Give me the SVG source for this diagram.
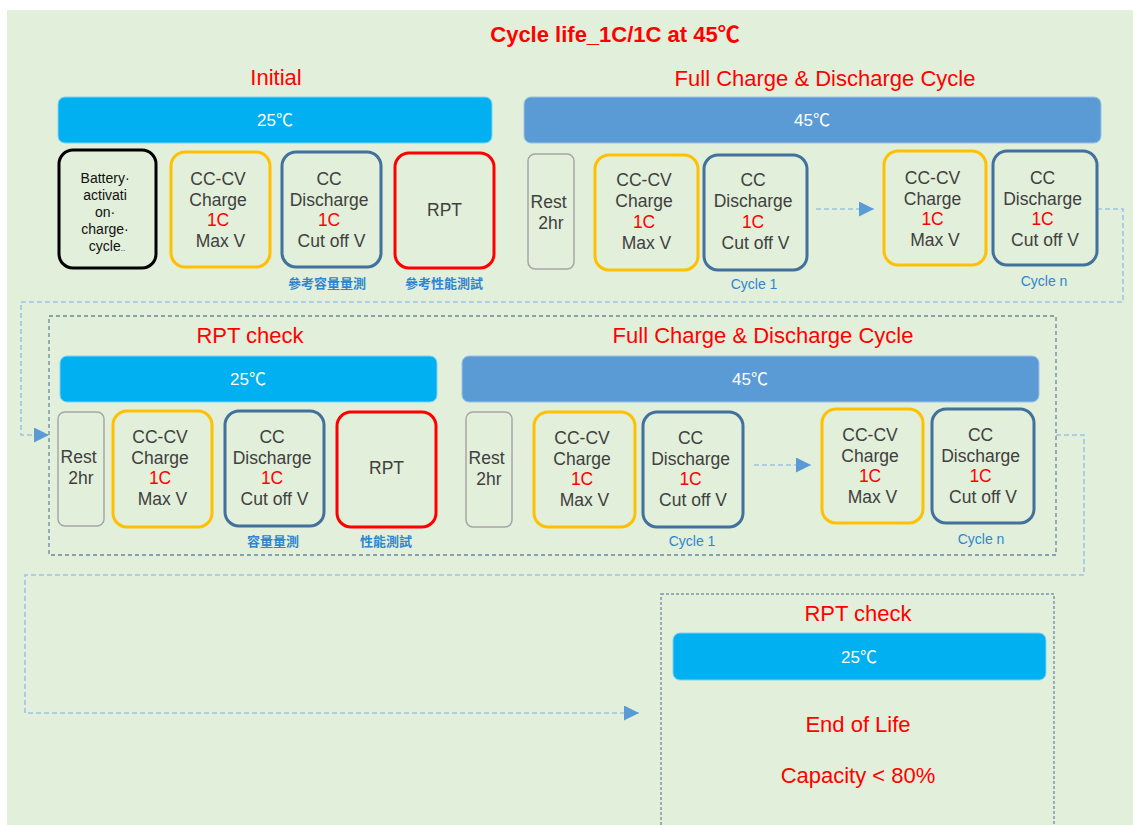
<svg xmlns="http://www.w3.org/2000/svg" width="1133" height="825" viewBox="0 0 1133 825">
  <style>
    text { font-family: "Liberation Sans", "Noto Sans CJK TC", sans-serif; text-anchor: middle; }
    .ttl { fill: #FF0000; font-size: 22px; }
    .bar25 { fill: #00B0F0; stroke: #7FD3F2; stroke-width: 1; }
    .bar45 { fill: #5B9BD5; stroke: #9CC2E6; stroke-width: 1; }
    .bartxt { fill: #FFFFFF; font-size: 17px; }
    .n { fill: none; stroke-width: 3; }
    .chg { stroke: #FFC000; }
    .dis { stroke: #41719C; }
    .rpt { stroke: #FF0000; }
    .act { stroke: #000000; }
    .rest { fill: none; stroke: #A6A6A6; stroke-width: 1.5; }
    .nt { fill: #404040; font-size: 17.5px; }
    .at { fill: #111111; font-size: 14px; }
    .red { fill: #FF0000; }
    .note { fill: #2E86CF; font-size: 14px; }
    .cjk { font-family: "Noto Sans CJK TC", sans-serif; font-weight: bold; font-size: 13px; }
    .flow { fill: none; stroke: #9DC3E6; stroke-width: 1.6; stroke-dasharray: 5 3; }
    .grp { fill: none; stroke: #6A88A4; stroke-width: 1.3; stroke-dasharray: 4 3; }
    .grp2 { fill: none; stroke: #7F97AA; stroke-width: 1.5; stroke-dasharray: 3 2; }
  </style>
  <defs>
    <marker id="tri" viewBox="0 0 10 10" refX="10" refY="5" markerWidth="15" markerHeight="15" markerUnits="userSpaceOnUse" orient="auto">
      <path d="M0,0 L10,5 L0,10 z" fill="#5B9BD5"/>
    </marker>
  </defs>

  <!-- backdrop -->
  <rect x="7" y="10" width="1130" height="820" fill="#E2EFDA"/>

  <!-- headings -->
  <text class="ttl" x="615" y="42" font-weight="bold">Cycle life_1C/1C at 45℃</text>
  <text class="ttl" x="276" y="85">Initial</text>
  <text class="ttl" x="825" y="86">Full Charge &amp; Discharge Cycle</text>

  <!-- group frames -->
  <rect class="grp" x="49" y="316" width="1007" height="239"/>
  <rect class="grp2" x="661" y="594" width="393" height="260"/>

  <!-- connectors -->
  <g id="connectors">
    <path class="flow" d="M1097,209 H1123 V302 H21 V435 H49" marker-end="url(#tri)"/>
    <path class="flow" d="M1056,435 H1084 V575 H25 V713 H639" marker-end="url(#tri)"/>
    <path class="flow" d="M816,209 H874" marker-end="url(#tri)"/>
    <path class="flow" d="M754,465 H811" marker-end="url(#tri)"/>
  </g>

  <!-- row 1: initial stage -->
  <g id="bar-initial">
    <rect class="bar25" x="58" y="97" width="434" height="46" rx="7"/>
    <text class="bartxt" x="275" y="126">25℃</text>
  </g>
  <g id="activation">
    <rect class="n act" x="59" y="150" width="97" height="118" rx="14"/>
    <text class="at">
      <tspan x="107" y="183">Battery·</tspan>
      <tspan x="107" y="200">activati</tspan>
      <tspan x="107" y="217">on·</tspan>
      <tspan x="107" y="234">charge·</tspan>
      <tspan x="107" y="251">cycle<tspan font-size="8">..</tspan></tspan>
    </text>
  </g>
  <g id="init-charge">
    <rect class="n chg" x="171" y="152" width="99" height="115" rx="14"/>
    <text class="nt">
      <tspan x="220.5" y="185">CC-CV</tspan>
      <tspan x="220.5" y="206">Charge</tspan>
      <tspan x="220.5" y="226" class="red">1C</tspan>
      <tspan x="220.5" y="247">Max V</tspan>
    </text>
  </g>
  <g id="init-discharge">
    <rect class="n dis" x="282" y="152" width="99" height="115" rx="14"/>
    <text class="nt">
      <tspan x="331.5" y="185">CC</tspan>
      <tspan x="331.5" y="206">Discharge</tspan>
      <tspan x="331.5" y="226" class="red">1C</tspan>
      <tspan x="331.5" y="247">Cut off V</tspan>
    </text>
    <text class="note cjk" x="327" y="288">參考容量量測</text>
  </g>
  <g id="init-rpt">
    <rect class="n rpt" x="395" y="153" width="99" height="115" rx="14"/>
    <text class="nt" x="444.5" y="216">RPT</text>
    <text class="note cjk" x="444" y="288">參考性能測試</text>
  </g>

  <!-- row 1: cycling at 45℃ -->
  <g id="bar-cycle-1">
    <rect class="bar45" x="524" y="97" width="577" height="46" rx="7"/>
    <text class="bartxt" x="812" y="126">45℃</text>
  </g>
  <g id="rest-1">
    <rect class="rest" x="528" y="154" width="46" height="115" rx="7"/>
    <text class="nt">
      <tspan x="551" y="208">Rest</tspan>
      <tspan x="551" y="229">2hr</tspan>
    </text>
  </g>
  <g id="cyc1-charge">
    <rect class="n chg" x="595" y="155" width="103" height="115" rx="14"/>
    <text class="nt">
      <tspan x="646.5" y="186">CC-CV</tspan>
      <tspan x="646.5" y="207">Charge</tspan>
      <tspan x="646.5" y="228" class="red">1C</tspan>
      <tspan x="646.5" y="249">Max V</tspan>
    </text>
  </g>
  <g id="cyc1-discharge">
    <rect class="n dis" x="704" y="155" width="103" height="115" rx="14"/>
    <text class="nt">
      <tspan x="755.5" y="186">CC</tspan>
      <tspan x="755.5" y="207">Discharge</tspan>
      <tspan x="755.5" y="228" class="red">1C</tspan>
      <tspan x="755.5" y="249">Cut off V</tspan>
    </text>
    <text class="note" x="754" y="289">Cycle 1</text>
  </g>
  <g id="cycn-charge">
    <rect class="n chg" x="884" y="151" width="102" height="114" rx="14"/>
    <text class="nt">
      <tspan x="935" y="184">CC-CV</tspan>
      <tspan x="935" y="205">Charge</tspan>
      <tspan x="935" y="225" class="red">1C</tspan>
      <tspan x="935" y="246">Max V</tspan>
    </text>
  </g>
  <g id="cycn-discharge">
    <rect class="n dis" x="993" y="151" width="104" height="114" rx="14"/>
    <text class="nt">
      <tspan x="1045" y="184">CC</tspan>
      <tspan x="1045" y="205">Discharge</tspan>
      <tspan x="1045" y="225" class="red">1C</tspan>
      <tspan x="1045" y="246">Cut off V</tspan>
    </text>
    <text class="note" x="1044" y="286">Cycle n</text>
  </g>

  <!-- row 2: RPT check + cycling -->
  <text class="ttl" x="250" y="343">RPT check</text>
  <text class="ttl" x="763" y="343">Full Charge &amp; Discharge Cycle</text>
  <g id="bar-rpt-2">
    <rect class="bar25" x="60" y="356" width="377" height="46" rx="7"/>
    <text class="bartxt" x="248" y="385">25℃</text>
  </g>
  <g id="rest-2">
    <rect class="rest" x="58" y="412" width="46" height="114" rx="7"/>
    <text class="nt">
      <tspan x="81" y="463">Rest</tspan>
      <tspan x="81" y="484">2hr</tspan>
    </text>
  </g>
  <g id="rpt2-charge">
    <rect class="n chg" x="113" y="411" width="99" height="116" rx="14"/>
    <text class="nt">
      <tspan x="162.5" y="443">CC-CV</tspan>
      <tspan x="162.5" y="464">Charge</tspan>
      <tspan x="162.5" y="484" class="red">1C</tspan>
      <tspan x="162.5" y="505">Max V</tspan>
    </text>
  </g>
  <g id="rpt2-discharge">
    <rect class="n dis" x="225" y="411" width="99" height="115" rx="14"/>
    <text class="nt">
      <tspan x="274.5" y="443">CC</tspan>
      <tspan x="274.5" y="464">Discharge</tspan>
      <tspan x="274.5" y="484" class="red">1C</tspan>
      <tspan x="274.5" y="505">Cut off V</tspan>
    </text>
    <text class="note cjk" x="273" y="546">容量量測</text>
  </g>
  <g id="rpt2-rpt">
    <rect class="n rpt" x="337" y="412" width="99" height="115" rx="14"/>
    <text class="nt" x="386.5" y="474">RPT</text>
    <text class="note cjk" x="386" y="546">性能測試</text>
  </g>

  <g id="bar-cycle-2">
    <rect class="bar45" x="462" y="356" width="577" height="46" rx="7"/>
    <text class="bartxt" x="750" y="385">45℃</text>
  </g>
  <g id="rest-3">
    <rect class="rest" x="466" y="412" width="46" height="115" rx="7"/>
    <text class="nt">
      <tspan x="489" y="464">Rest</tspan>
      <tspan x="489" y="485">2hr</tspan>
    </text>
  </g>
  <g id="cyc2-1-charge">
    <rect class="n chg" x="534" y="412" width="101" height="115" rx="14"/>
    <text class="nt">
      <tspan x="584.5" y="444">CC-CV</tspan>
      <tspan x="584.5" y="465">Charge</tspan>
      <tspan x="584.5" y="485" class="red">1C</tspan>
      <tspan x="584.5" y="506">Max V</tspan>
    </text>
  </g>
  <g id="cyc2-1-discharge">
    <rect class="n dis" x="643" y="412" width="100" height="115" rx="14"/>
    <text class="nt">
      <tspan x="693" y="444">CC</tspan>
      <tspan x="693" y="465">Discharge</tspan>
      <tspan x="693" y="485" class="red">1C</tspan>
      <tspan x="693" y="506">Cut off V</tspan>
    </text>
    <text class="note" x="692" y="546">Cycle 1</text>
  </g>
  <g id="cyc2-n-charge">
    <rect class="n chg" x="822" y="409" width="101" height="114" rx="14"/>
    <text class="nt">
      <tspan x="872.5" y="441">CC-CV</tspan>
      <tspan x="872.5" y="462">Charge</tspan>
      <tspan x="872.5" y="482" class="red">1C</tspan>
      <tspan x="872.5" y="503">Max V</tspan>
    </text>
  </g>
  <g id="cyc2-n-discharge">
    <rect class="n dis" x="932" y="409" width="102" height="114" rx="14"/>
    <text class="nt">
      <tspan x="983" y="441">CC</tspan>
      <tspan x="983" y="462">Discharge</tspan>
      <tspan x="983" y="482" class="red">1C</tspan>
      <tspan x="983" y="503">Cut off V</tspan>
    </text>
    <text class="note" x="981" y="544">Cycle n</text>
  </g>

  <!-- final check -->
  <g id="end-of-life">
    <text class="ttl" x="858" y="621">RPT check</text>
    <rect class="bar25" x="673" y="633" width="373" height="47" rx="7"/>
    <text class="bartxt" x="859" y="663">25℃</text>
    <text class="ttl" x="858" y="732">End of Life</text>
    <text class="ttl" x="858" y="783">Capacity &lt; 80%</text>
  </g>
</svg>
